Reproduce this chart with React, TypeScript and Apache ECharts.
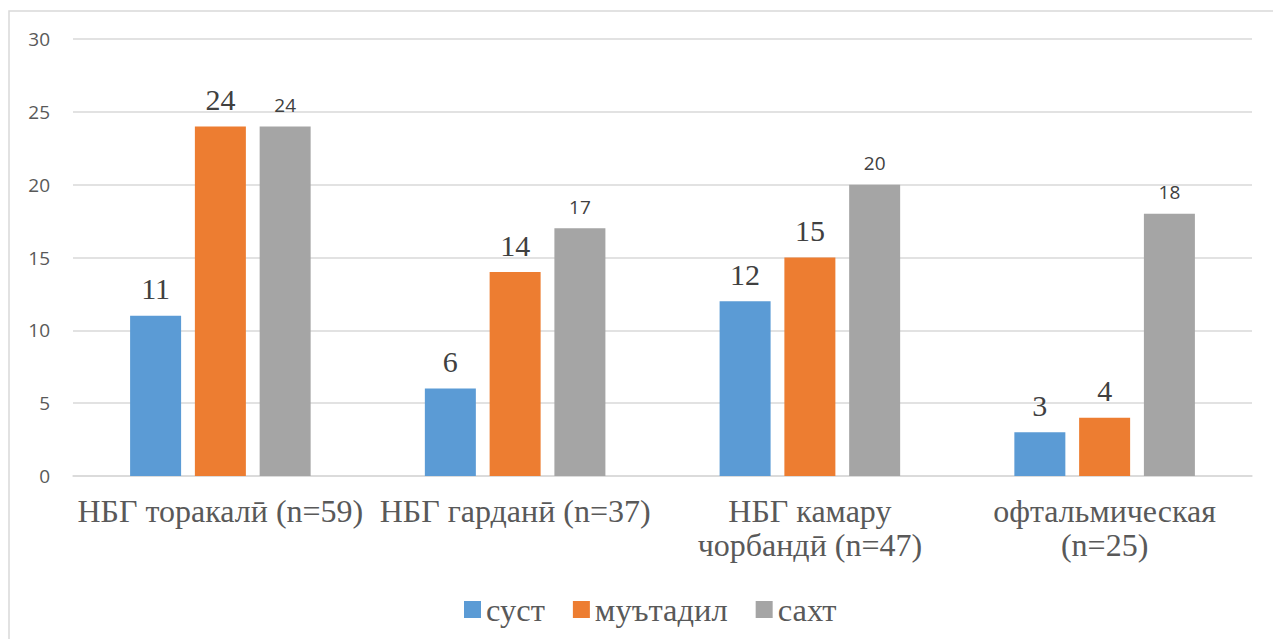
import React, { useEffect, useRef } from "react";
import * as echarts from "echarts";

const categories = [
  "НБГ торакалӣ (n=59)",
  "НБГ гарданӣ (n=37)",
  "НБГ камару\nчорбандӣ (n=47)",
  "офтальмическая\n(n=25)",
];
const seriesNames = ["суст", "муътадил", "сахт"];
const sustValues = [11, 6, 12, 3];
const mutadilValues = [24, 14, 15, 4];
const sakhtValues = [24, 17, 20, 18];
const colors = ["#5B9BD5", "#ED7D31", "#A5A5A5"];

const SERIF = "serif";
const SANS = "Open Sans";

export default function App() {
  const ref = useRef<HTMLDivElement>(null);
  useEffect(() => {
    if (!ref.current) return;
    const chart = echarts.init(ref.current, null, { renderer: "svg" });
    const serifLabel = {
      show: true,
      position: "top",
      distance: 12,
      fontFamily: SERIF,
      fontSize: 30,
      color: "#404040",
    };
    const sansLabel = {
      show: true,
      position: "top",
      distance: 12,
      fontFamily: SANS,
      fontSize: 19,
      color: "#404040",
    };
    chart.setOption({
      animation: false,
      backgroundColor: "#ffffff",
      color: colors,
      graphic: [
        {
          type: "rect",
          shape: { x: 9, y: 11, width: 1400, height: 800 },
          style: { fill: "none", stroke: "#d9d9d9", lineWidth: 1.5 },
          silent: true,
        },
      ],
      grid: { left: 73, right: 21, top: 39, bottom: 163, containLabel: false },
      legend: {
        left: 459,
        top: 588,
        itemWidth: 17,
        itemHeight: 17,
        itemGap: 28,
        icon: "rect",
        textStyle: { fontFamily: SERIF, fontSize: 32.5, color: "#595959" },
        data: seriesNames,
      },
      xAxis: {
        type: "category",
        data: categories,
        axisTick: { show: false },
        axisLine: { show: true, lineStyle: { color: "#d9d9d9", width: 1.5 } },
        axisLabel: {
          interval: 0,
          margin: 18,
          fontFamily: SERIF,
          fontSize: 32,
          lineHeight: 34,
          color: "#595959",
        },
      },
      yAxis: {
        type: "value",
        min: 0,
        max: 30,
        interval: 5,
        axisLine: { show: false },
        axisTick: { show: false },
        splitLine: { lineStyle: { color: "#d9d9d9", width: 1.5 } },
        axisLabel: { margin: 23, fontFamily: SANS, fontSize: 19, color: "#595959" },
      },
      series: [
        { name: seriesNames[0], type: "bar", data: sustValues, barWidth: 51, barGap: "27%", label: serifLabel },
        { name: seriesNames[1], type: "bar", data: mutadilValues, barWidth: 51, barGap: "27%", label: serifLabel },
        { name: seriesNames[2], type: "bar", data: sakhtValues, barWidth: 51, barGap: "27%", label: sansLabel },
      ],
    });
    return () => chart.dispose();
  }, []);
  return (
    <div
      ref={ref}
      style={{ position: "absolute", left: 0, top: 0, width: 1273, height: 639 }}
    />
  );
}
